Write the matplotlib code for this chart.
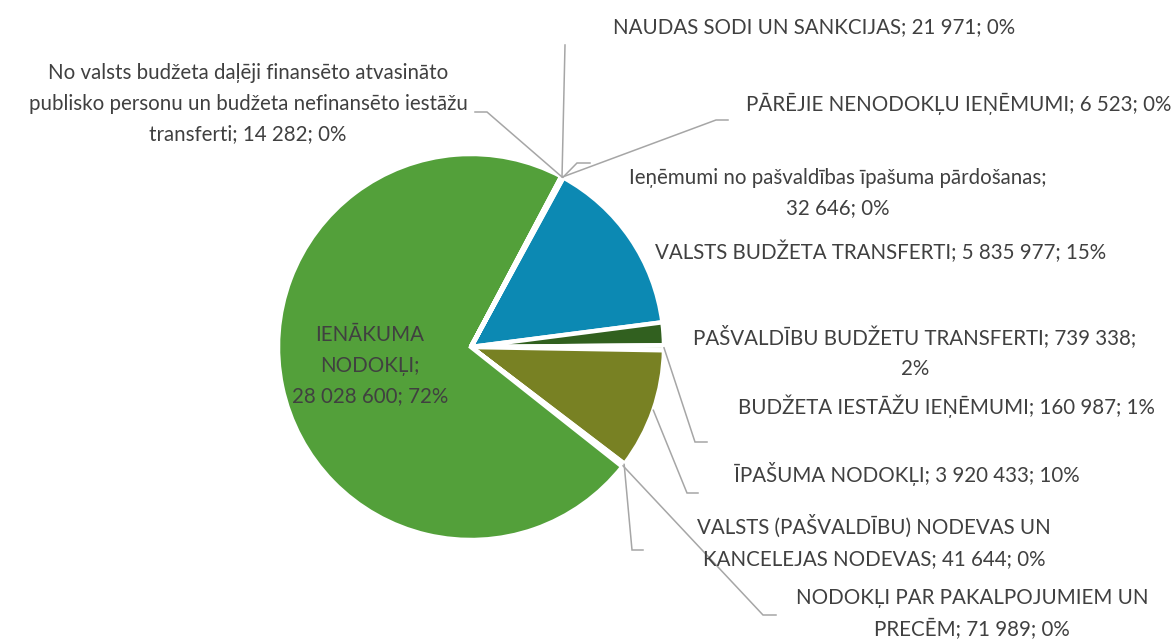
import matplotlib
matplotlib.use('Agg')
import matplotlib.pyplot as plt
import numpy as np

plt.rcParams['font.family'] = ['Lato', 'DejaVu Sans']

# dati (pulksteņrādītāja virzienā, sākot ar valsts budžeta transfertiem)
nosaukumi = ['VALSTS BUDŽETA TRANSFERTI',
             'PAŠVALDĪBU BUDŽETU TRANSFERTI',
             'BUDŽETA IESTĀŽU IEŅĒMUMI',
             'ĪPAŠUMA NODOKĻI',
             'VALSTS (PAŠVALDĪBU) NODEVAS UN KANCELEJAS NODEVAS',
             'NODOKĻI PAR PAKALPOJUMIEM UN PRECĒM',
             'IENĀKUMA NODOKĻI',
             'No valsts budžeta daļēji finansēto atvasināto publisko personu un budžeta nefinansēto iestāžu transferti',
             'NAUDAS SODI UN SANKCIJAS',
             'PĀRĒJIE NENODOKĻU IEŅĒMUMI',
             'Ieņēmumi no pašvaldības īpašuma pārdošanas']
vertibas = [5835977, 739338, 160987, 3920433, 41644, 71989, 28028600,
            14282, 21971, 6523, 32646]
krasas = ['#0C89B3', '#31601F', '#E4ECD6', '#788123', '#9DC3E6', '#A9D18E',
          '#53A03A', '#BDD7EE', '#C5E0B4', '#DEEBF7', '#E2F0D9']

# etiķešu teksts ar rindu pārnesumiem kā oriģinālā
etiketes = ['VALSTS BUDŽETA TRANSFERTI; {v}; {p}%',
            'PAŠVALDĪBU BUDŽETU TRANSFERTI; {v};\n{p}%',
            'BUDŽETA IESTĀŽU IEŅĒMUMI; {v}; {p}%',
            'ĪPAŠUMA NODOKĻI; {v}; {p}%',
            'VALSTS (PAŠVALDĪBU) NODEVAS UN\nKANCELEJAS NODEVAS; {v}; {p}%',
            'NODOKĻI PAR PAKALPOJUMIEM UN\nPRECĒM; {v}; {p}%',
            'IENĀKUMA\nNODOKĻI;\n{v}; {p}%',
            'No valsts budžeta daļēji finansēto atvasināto\npublisko personu un budžeta nefinansēto iestāžu\ntransferti; {v}; {p}%',
            'NAUDAS SODI UN SANKCIJAS; {v}; {p}%',
            'PĀRĒJIE NENODOKĻU IEŅĒMUMI; {v}; {p}%',
            'Ieņēmumi no pašvaldības īpašuma pārdošanas;\n{v}; {p}%']

# izkārtojums pikseļos (attēls 1176x639)
W, H = 1176, 639
cx, cy, R = 471, 347, 193
etik_poz = [(881, 252), (915, 352), (946, 406), (907, 474), (874, 542),
            (972, 614), (370, 366), (248, 104), (814, 27), (959, 104), (838, 193)]
# līniju lūzuma punkts un gals (None - bez līnijas)
linijas = [None, None,
           ((695, 442), (707, 442)),
           ((687, 493), (698, 493)),
           ((632, 550), (643, 550)),
           ((763, 615), (776, 615)),
           None,
           ((487, 112), (475, 112)),
           ((565, 45), (565, 45)),
           ((716, 120), (728, 120)),
           ((577, 163), (590, 163))]


def px(x, y):
    return (x - cx) / R, (cy - y) / R


# procenti kā Excel (lielākā atlikuma metode)
vert = np.array(vertibas, dtype=float)
proc = vert / vert.sum() * 100
pp = np.floor(proc).astype(int)
trukst = 100 - pp.sum()
for i in np.argsort(-(proc - pp))[:trukst]:
    pp[i] += 1

fig = plt.figure(figsize=(W / 100, H / 100), dpi=100)
ax = fig.add_axes([0, 0, 1, 1])

wedges, _ = ax.pie(vertibas, colors=krasas, startangle=90 - 28.6,
                   counterclock=False, radius=1,
                   wedgeprops=dict(edgecolor='white', linewidth=3.2))

ax.set_xlim(-cx / R, (W - cx) / R)
ax.set_ylim(-(H - cy) / R, cy / R)
ax.axis('off')

for i, w in enumerate(wedges):
    v_txt = f'{vertibas[i]:,}'.replace(',', ' ')
    txt = etiketes[i].format(v=v_txt, p=pp[i])
    x, y = px(*etik_poz[i])
    ax.text(x, y, txt, ha='center', va='center', fontsize=14.8,
            color='#404040', linespacing=1.66)
    if linijas[i] is not None:
        ang = np.deg2rad((w.theta1 + w.theta2) / 2)
        ax0, ay0 = np.cos(ang), np.sin(ang)
        bx, by = px(*linijas[i][0])
        ex, ey = px(*linijas[i][1])
        ax.plot([ax0, bx, ex], [ay0, by, ey], color='#A6A6A6', lw=1.1,
                solid_joinstyle='miter')

fig.savefig('out.png', dpi=100, facecolor='white')
